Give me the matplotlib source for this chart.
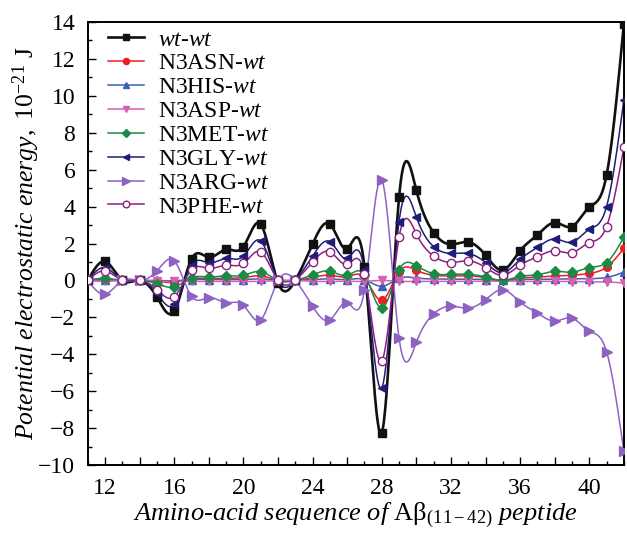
import numpy as np
import matplotlib
matplotlib.use("Agg")
import matplotlib.pyplot as plt
from matplotlib.ticker import MultipleLocator, FixedLocator

plt.rcParams['font.family'] = ['Liberation Serif', 'DejaVu Serif']
plt.rcParams['mathtext.fontset'] = 'custom'
plt.rcParams['mathtext.rm'] = 'Liberation Serif'
plt.rcParams['mathtext.it'] = 'Liberation Serif:italic'

# residue number
residues = list(range(11, 43))

# energies, 10^-21 J
wt_wt = [0, 1.03, 0, 0, -0.9, -1.66, 1.17, 1.25, 1.68, 1.83, 3.05, -0.13, 0, 1.97, 3.05, 1.72,
         0.75, -8.25, 4.5, 4.88, 2.59, 1.95, 2.08, 1.37, 0.56, 1.61, 2.46, 3.13, 2.92, 3.97, 5.7, 13.9]
asn_wt = [0, 0.05, 0, 0, -0.05, -0.1, 0.1, 0.1, 0.12, 0.15, 0.25, 0, 0, 0.16, 0.28, 0.2,
          0.16, -1.08, 0.48, 0.55, 0.28, 0.25, 0.25, 0.15, 0.0, 0.12, 0.18, 0.24, 0.28, 0.38, 0.72, 1.74]
his_wt = [0, 0.03, 0, 0, 0, -0.02, 0.05, 0.05, 0.05, 0.05, 0.08, 0, 0, 0.05, 0.08, 0.05,
          0.05, -0.32, 0.12, 0.13, 0.08, 0.07, 0.07, 0.05, 0.0, 0.05, 0.06, 0.07, 0.08, 0.1, 0.16, 0.45]
asp_wt = [0, -0.05, 0, 0, -0.05, -0.05, -0.05, -0.05, -0.05, -0.05, -0.05, 0, 0, -0.05, -0.05, -0.05,
          -0.05, 0.0, -0.05, -0.05, -0.05, -0.05, -0.05, -0.05, -0.03, -0.05, -0.05, -0.05, -0.06, -0.07, -0.08, -0.14]
met_wt = [0, 0.12, 0, 0, -0.18, -0.35, 0.15, 0.19, 0.25, 0.28, 0.48, 0, 0, 0.31, 0.5, 0.28,
          0.3, -1.49, 0.57, 0.8, 0.37, 0.33, 0.33, 0.19, 0.0, 0.23, 0.3, 0.5, 0.44, 0.7, 0.97, 2.34]
gly_wt = [0, 0.7, 0, 0, -0.7, -1.3, 0.83, 0.95, 1.19, 1.32, 2.14, -0.05, 0, 1.32, 2.1, 1.19,
          0.55, -5.82, 3.19, 3.43, 1.83, 1.46, 1.46, 0.97, 0.41, 1.14, 1.79, 2.25, 2.07, 2.77, 4.0, 9.77]
arg_wt = [0, -0.75, 0, 0, 0.52, 1.06, -0.86, -0.93, -1.2, -1.35, -2.13, 0, 0, -1.4, -2.13, -1.2,
          -0.53, 5.46, -3.11, -3.35, -1.81, -1.39, -1.5, -1.04, -0.5, -1.17, -1.77, -2.2, -2.04, -2.75, -3.86, -9.25]
phe_wt = [0, 0.52, 0, 0, -0.5, -0.88, 0.59, 0.65, 0.83, 0.92, 1.55, 0, 0, 1.0, 1.55, 0.87,
          0.36, -4.35, 2.34, 2.52, 1.32, 0.97, 1.06, 0.7, 0.28, 0.83, 1.28, 1.61, 1.5, 2.05, 2.92, 7.2]

labels = [r'$\mathit{wt}$-$\mathit{wt}$', r'N3ASN-$\mathit{wt}$', r'N3HIS-$\mathit{wt}$', r'N3ASP-$\mathit{wt}$',
          r'N3MET-$\mathit{wt}$', r'N3GLY-$\mathit{wt}$', r'N3ARG-$\mathit{wt}$', r'N3PHE-$\mathit{wt}$']


def smooth(x, y, n=1500):
    # natural cubic spline through the points, only for drawing the curve
    x = np.asarray(x, float)
    y = np.asarray(y, float)
    k = len(x)
    h = np.diff(x)
    A = np.zeros((k, k))
    b = np.zeros(k)
    A[0, 0] = A[-1, -1] = 1
    for i in range(1, k - 1):
        A[i, i - 1] = h[i - 1]
        A[i, i] = 2 * (h[i - 1] + h[i])
        A[i, i + 1] = h[i]
        b[i] = 6 * ((y[i + 1] - y[i]) / h[i] - (y[i] - y[i - 1]) / h[i - 1])
    M = np.linalg.solve(A, b)
    xs = np.linspace(x[0], x[-1], n)
    j = np.clip(np.searchsorted(x, xs) - 1, 0, k - 2)
    a = xs - x[j]
    c = x[j + 1] - xs
    hj = h[j]
    ys = (M[j] * c ** 3 + M[j + 1] * a ** 3) / (6 * hj) \
        + (y[j] / hj - M[j] * hj / 6) * c + (y[j + 1] / hj - M[j + 1] * hj / 6) * a
    return xs, ys


fig = plt.figure(figsize=(6.27, 5.34), dpi=100)
ax = fig.add_axes([0.14, 0.129, 0.855, 0.83])

series = [wt_wt, asn_wt, his_wt, asp_wt, met_wt, gly_wt, arg_wt, phe_wt]
colors = ['#111111', '#ee1c25', '#3a5fb5', '#d660b4', '#1b8a45', '#1e1e78', '#8d62c2', '#8c1f7e']
markers = ['s', 'o', '^', 'v', 'D', '<', '>', 'o']
msizes = [5.5, 5.5, 5.5, 6, 5, 6, 6.5, 6]
lws = [1.9, 1.1, 1.1, 1.1, 1.1, 1.1, 1.1, 1.1]

for vals, c, m, ms, lw, lab in zip(series, colors, markers, msizes, lws, labels):
    xs, ys = smooth(residues, vals)
    ax.plot(xs, ys, color=c, lw=lw, zorder=2)
    face = 'white' if lab.startswith('N3PHE') else c
    ax.plot(residues, vals, ls='none', marker=m, ms=ms, color=c, mfc=face, mec=c, mew=1.0, zorder=3)
    ax.plot([], [], color=c, lw=lw, marker=m, ms=ms * 0.8, mfc=face, mec=c, label=lab)

ax.set_xlim(11, 42)
ax.set_ylim(-10, 14)
ax.xaxis.set_major_locator(FixedLocator(list(range(12, 42, 2))))
ax.set_xticklabels([str(v) if v % 4 == 0 else '' for v in range(12, 42, 2)])
ax.xaxis.set_minor_locator(MultipleLocator(1))
ax.yaxis.set_major_locator(MultipleLocator(2))
ax.yaxis.set_minor_locator(MultipleLocator(1))
ax.tick_params(which='both', direction='in', top=False, right=False)
ax.tick_params(which='major', length=6, width=1, labelsize=17, pad=9)
ax.tick_params(which='minor', length=3, width=1)
for s in ax.spines.values():
    s.set_linewidth(1.4)

ax.set_ylabel(r'$\mathit{Potential\ electrostatic\ energy,}$ 10$^{-21}$ J', fontsize=18.5, labelpad=-3)
ax.set_xlabel(r'$\mathit{Amino}$-$\mathit{acid\ sequence\ of}$ Aβ$_{(11-42)}$ $\mathit{peptide}$',
              fontsize=19, labelpad=1)

ax.legend(loc='upper left', bbox_to_anchor=(0.038, 0.984), frameon=False, fontsize=17,
          handlelength=1.5, handletextpad=0.6, labelspacing=0.1, borderaxespad=0, borderpad=0)

fig.savefig('out.png', dpi=100)
